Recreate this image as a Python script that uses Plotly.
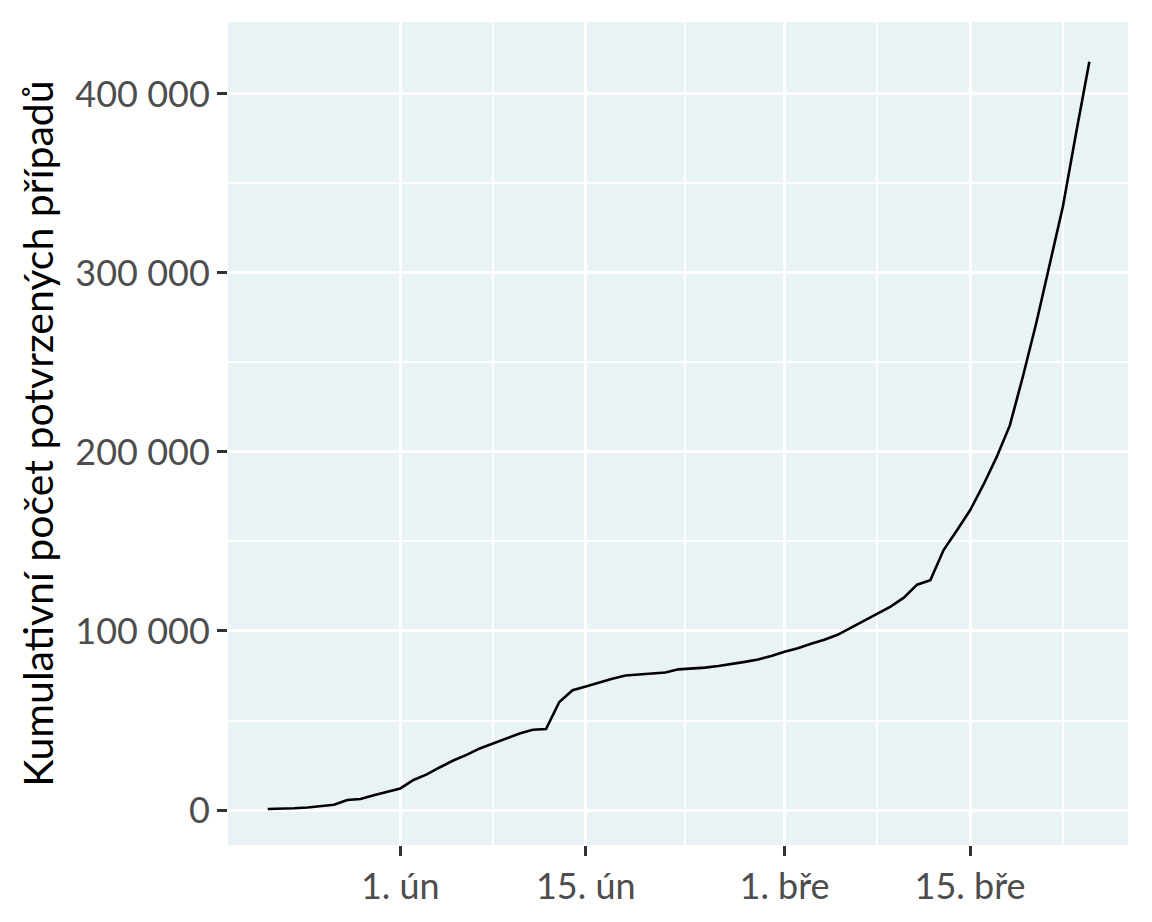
import plotly.graph_objects as go

# kumulativní počet potvrzených případů, 22. 1. - 24. 3. 2020
dates = [
    "2020-01-22", "2020-01-23", "2020-01-24", "2020-01-25", "2020-01-26",
    "2020-01-27", "2020-01-28", "2020-01-29", "2020-01-30", "2020-01-31",
    "2020-02-01", "2020-02-02", "2020-02-03", "2020-02-04", "2020-02-05",
    "2020-02-06", "2020-02-07", "2020-02-08", "2020-02-09", "2020-02-10",
    "2020-02-11", "2020-02-12", "2020-02-13", "2020-02-14", "2020-02-15",
    "2020-02-16", "2020-02-17", "2020-02-18", "2020-02-19", "2020-02-20",
    "2020-02-21", "2020-02-22", "2020-02-23", "2020-02-24", "2020-02-25",
    "2020-02-26", "2020-02-27", "2020-02-28", "2020-02-29", "2020-03-01",
    "2020-03-02", "2020-03-03", "2020-03-04", "2020-03-05", "2020-03-06",
    "2020-03-07", "2020-03-08", "2020-03-09", "2020-03-10", "2020-03-11",
    "2020-03-12", "2020-03-13", "2020-03-14", "2020-03-15", "2020-03-16",
    "2020-03-17", "2020-03-18", "2020-03-19", "2020-03-20", "2020-03-21",
    "2020-03-22", "2020-03-23", "2020-03-24",
]
cases = [
    555, 654, 941, 1434, 2118, 2927, 5578, 6166, 8234, 9927,
    12038, 16787, 19881, 23892, 27635, 30794, 34391, 37120, 40150, 42762,
    44802, 45221, 60368, 66885, 69030, 71224, 73258, 75136, 75639, 76197,
    76819, 78572, 78958, 79561, 80406, 81388, 82746, 84112, 86011, 88369,
    90306, 92840, 95120, 97886, 101801, 105847, 109821, 113590, 118620, 125875,
    128352, 145205, 156101, 167454, 181574, 197102, 214821, 242570, 272208, 304507,
    336953, 378235, 418045,
]

x_ticks = ["2020-02-01", "2020-02-15", "2020-03-01", "2020-03-15"]
x_labels = ["1. ún", "15. ún", "1. bře", "15. bře"]
x_minor = ["2020-01-18", "2020-02-08", "2020-02-22 12:00", "2020-03-08", "2020-03-22"]
y_ticks = [0, 100000, 200000, 300000, 400000]
y_labels = ["0", "100 000", "200 000", "300 000", "400 000"]
y_minor = [50000, 150000, 250000, 350000]

fig = go.Figure()
fig.add_trace(go.Scatter(x=dates, y=cases, mode="lines",
                         line=dict(color="black", width=2.6), showlegend=False))

axis_common = dict(
    showline=False, zeroline=False,
    ticks="outside", ticklen=10, tickwidth=2.5, tickcolor="#333333",
    showgrid=True, gridcolor="white", gridwidth=3,
    tickfont=dict(family="Lato", size=36, color="#4d4d4d"),
)

fig.update_xaxes(
    tickmode="array", tickvals=x_ticks, ticktext=x_labels,
    range=["2020-01-19", "2020-03-26 22:00"],
    minor=dict(tickvals=x_minor, showgrid=True, gridcolor="white", gridwidth=1.5, ticks=""),
    **axis_common,
)
fig.update_yaxes(
    tickmode="array", tickvals=y_ticks, ticktext=y_labels,
    range=[-19550, 440200],
    minor=dict(tickvals=y_minor, showgrid=True, gridcolor="white", gridwidth=1.5, ticks=""),
    title=dict(text="Kumulativní počet potvrzených případů",
               font=dict(family="Lato", size=41, color="black"), standoff=8),
    **axis_common,
)

fig.update_layout(
    width=1152, height=922,
    margin=dict(l=220, r=32, t=14, b=85),
    plot_bgcolor="#e9f2f5", paper_bgcolor="white",
    font=dict(family="Lato"),
)

fig.write_html("out.html")
